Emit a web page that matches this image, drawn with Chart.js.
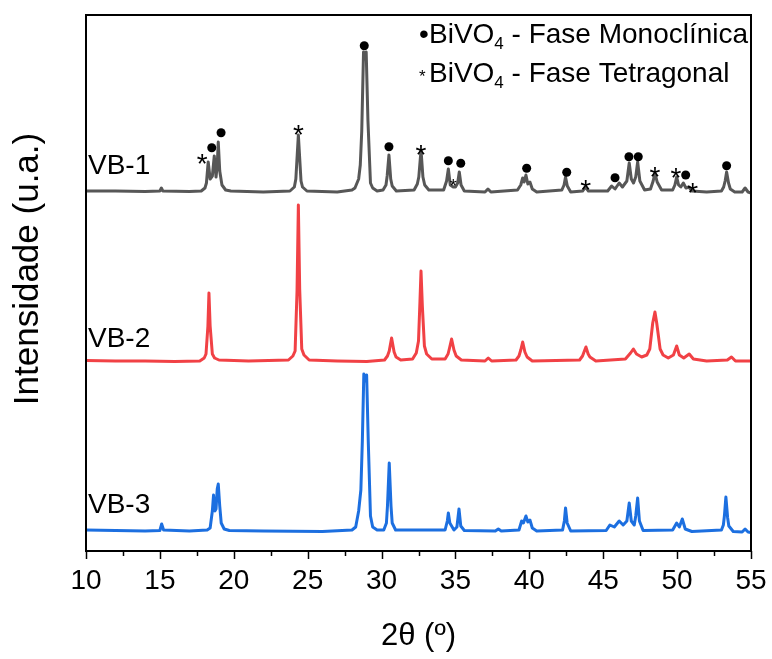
<!DOCTYPE html>
<html>
<head>
<meta charset="utf-8">
<script src="https://cdn.jsdelivr.net/npm/chart.js@4.4.0/dist/chart.umd.min.js"></script>
<style>
  html, body { margin: 0; padding: 0; background: #fff; }
  #wrap { width: 772px; height: 659px; }
</style>
</head>
<body>
<div id="wrap"><canvas id="xrdChart" width="772" height="659"></canvas></div>
<script>
// 2theta / intensity (arbitrary units, patterns already stacked)
const vb1 = [[10,360],[12,360],[14,359.5],[15.0,360],[15.1,363],[15.2,360],[17,359.5],[17.8,360],[18.05,363],[18.15,368],[18.27,389],[18.4,372],[18.55,375],[18.68,395],[18.8,374],[18.88,386],[18.95,409],[19.05,380],[19.2,366],[19.45,361],[19.8,360],[22,359],[23.8,360],[24.1,364],[24.2,372],[24.37,416],[24.55,370],[24.65,364],[24.95,360],[27,359],[28.0,361],[28.2,363],[28.45,372],[28.56,386],[28.66,420],[28.78,499],[28.88,492],[28.96,499],[29.08,430],[29.25,368],[29.4,363],[29.7,360],[30.1,361],[30.3,366],[30.38,375],[30.5,396],[30.62,372],[30.72,365],[31.0,360],[32.2,361],[32.42,367],[32.52,374],[32.67,401],[32.8,374],[32.92,366],[33.2,361],[34.2,361],[34.4,370],[34.52,382],[34.65,366],[34.85,364],[35.0,364],[35.15,368],[35.26,379],[35.38,366],[35.6,360],[37.0,359],[37.2,362],[37.4,359],[39.2,361],[39.42,366],[39.55,373],[39.65,369],[39.77,376],[39.9,367],[40.04,369],[40.2,362],[40.5,359],[42.2,361],[42.35,366],[42.45,374],[42.57,365],[42.8,359],[43.6,360],[43.8,364],[44.0,360],[45.3,360],[45.57,365],[45.8,362],[46.08,368],[46.3,364],[46.6,370],[46.76,388],[46.9,372],[47.05,368],[47.2,374],[47.33,389],[47.48,370],[47.8,361],[48.2,362],[48.38,370],[48.5,378],[48.65,369],[48.95,361],[49.7,361],[49.85,366],[49.97,374],[50.1,366],[50.25,364],[50.42,368],[50.6,363],[50.8,364],[51.0,360],[52.0,359],[53.0,360],[53.15,364],[53.25,370],[53.35,379],[53.48,368],[53.6,362],[53.9,359],[54.4,359],[54.6,363],[54.8,359],[55,358]];
const vb2 = [[10,190.5],[12,190],[14,190],[16,189.5],[17.7,190],[18.0,193],[18.12,197],[18.25,225],[18.32,258],[18.4,225],[18.55,197],[18.7,193],[19.0,191],[21,190],[23.7,191],[24.0,195],[24.15,200],[24.28,260],[24.37,346],[24.46,262],[24.6,202],[24.75,196],[25.1,191],[27,190],[29,189.5],[30.2,191],[30.4,195],[30.52,200],[30.68,213],[30.85,199],[30.98,194],[31.3,191],[32.1,192],[32.35,198],[32.5,210],[32.6,250],[32.67,280],[32.76,245],[32.9,205],[33.05,197],[33.4,192],[34.3,192],[34.5,197],[34.6,203],[34.74,212],[34.9,201],[35.05,195],[35.4,191],[37.0,190],[37.22,193],[37.45,190],[39.1,191],[39.3,195],[39.42,201],[39.55,209],[39.7,199],[39.85,194],[40.2,190],[43.4,191],[43.6,195],[43.7,199],[43.83,204],[43.98,197],[44.1,194],[44.5,190],[46.5,192],[46.85,198],[47.04,202],[47.25,197],[47.6,194],[47.95,196],[48.15,202],[48.35,228],[48.5,239],[48.62,228],[48.85,202],[49.05,196],[49.4,193],[49.75,196],[49.97,205],[50.15,196],[50.45,193],[50.82,197],[51.1,192],[52,190],[53.4,191],[53.68,194],[53.95,190],[55,190]];
const vb3 = [[10,21],[12,20.5],[14,20],[15.0,20.5],[15.12,27],[15.25,21],[17,20],[18.2,21],[18.4,23],[18.55,40],[18.63,56],[18.72,40],[18.8,42],[18.88,62],[18.95,67],[19.05,45],[19.15,28],[19.35,22],[19.7,20.5],[22,20],[26,19.5],[28.0,21],[28.25,24],[28.45,40],[28.6,61],[28.7,110],[28.8,177],[28.9,170],[28.99,176],[29.1,110],[29.25,35],[29.4,24],[29.7,21],[30.15,21],[30.33,28],[30.4,45],[30.52,88],[30.64,45],[30.72,28],[30.95,21],[34.3,21],[34.45,30],[34.52,38],[34.62,28],[34.9,21],[35.1,24],[35.24,42],[35.36,25],[35.6,20.5],[37.7,20],[37.9,22],[38.1,20],[39.3,21],[39.48,30],[39.6,28],[39.77,35],[39.9,29],[40.04,31],[40.2,23],[40.5,20],[42.25,21],[42.37,30],[42.45,43],[42.56,28],[42.8,20],[45.2,20.5],[45.45,26],[45.75,24],[46.08,30],[46.35,26],[46.6,30],[46.76,48],[46.9,30],[47.1,26],[47.2,35],[47.33,53],[47.45,30],[47.7,20.5],[49.7,21],[49.97,28],[50.15,24],[50.35,32],[50.55,22],[51,19.5],[53.0,21],[53.13,26],[53.2,35],[53.3,54],[53.42,33],[53.5,25],[53.8,19.5],[54.4,19],[54.6,22],[54.8,19],[55,18.5]];
const seriesNames = ['VB-1', 'VB-2', 'VB-3'];
const seriesColors = ['#575757', '#f14145', '#1c6fe0'];

// phase markers above VB-1 peaks
const monoclinicMarks = [[18.51,403.3],[19.14,418.3],[28.83,505.3],[30.50,404.3],[34.52,390.3],[35.36,387.7],[39.82,382.7],[42.53,378.7],[45.80,373.3],[46.74,394.3],[47.37,394.3],[50.58,376],[53.35,385.3]];
const tetragonalMarks = [[17.87,393.7],[24.37,422.7],[32.67,402.7],[43.81,367.7],[48.50,381],[49.92,380],[51.05,365.3]];
const tetragonalSmall = [[34.85,368.7]];

const FONT = '"Liberation Sans", Arial, sans-serif';
const toPoints = arr => arr.map(p => ({ x: p[0], y: p[1] }));

const decor = {
    id: 'decor',
    afterDraw(chart) {
        const { ctx, chartArea: a, scales: { x, y } } = chart;
        ctx.save();

        // frame
        ctx.strokeStyle = '#000';
        ctx.lineWidth = 2;
        ctx.strokeRect(a.left, a.top, a.right - a.left, a.bottom - a.top);

        // major / minor ticks, outward
        ctx.lineWidth = 1.5;
        for (let v = 10; v <= 55; v += 2.5) {
            const px = Math.round(x.getPixelForValue(v)) + 0.5;
            const len = (v % 5 === 0) ? 8 : 5;
            ctx.beginPath();
            ctx.moveTo(px, a.bottom);
            ctx.lineTo(px, a.bottom + len);
            ctx.stroke();
        }

        // markers
        ctx.fillStyle = '#000';
        monoclinicMarks.forEach(m => {
            ctx.beginPath();
            ctx.arc(x.getPixelForValue(m[0]), y.getPixelForValue(m[1]), 4.5, 0, Math.PI * 2);
            ctx.fill();
        });
        ctx.textAlign = 'center';
        ctx.textBaseline = 'alphabetic';
        ctx.font = '28px ' + FONT;
        tetragonalMarks.forEach(m => {
            ctx.fillText('*', x.getPixelForValue(m[0]), y.getPixelForValue(m[1]) + 16);
        });
        ctx.font = '18px ' + FONT;
        tetragonalSmall.forEach(m => {
            ctx.fillText('*', x.getPixelForValue(m[0]), y.getPixelForValue(m[1]) + 10);
        });

        // series labels
        ctx.textAlign = 'left';
        ctx.font = '28px ' + FONT;
        const labelBase = [174, 347, 513];
        seriesNames.forEach((n, i) => ctx.fillText(n, a.left + 2, labelBase[i]));

        // legend
        const legendLine = (sym, symFont, symY, baseY, rest) => {
            ctx.font = symFont;
            ctx.fillText(sym, 419, symY);
            let cx = 429;
            ctx.font = '28px ' + FONT;
            ctx.fillText('BiVO', cx, baseY);
            cx += ctx.measureText('BiVO').width;
            ctx.font = '17px ' + FONT;
            ctx.fillText('4', cx, baseY + 6);
            cx += ctx.measureText('4').width;
            ctx.font = '28px ' + FONT;
            ctx.fillText(rest, cx, baseY);
        };
        legendLine('\u2022', '28px ' + FONT, 43, 43, ' - Fase Monocl\u00ednica');
        legendLine('*', '17px ' + FONT, 82, 82, ' - Fase Tetragonal');

        // y title
        ctx.translate(28, 269);
        ctx.rotate(-Math.PI / 2);
        ctx.textAlign = 'center';
        ctx.textBaseline = 'middle';
        ctx.font = '35px ' + FONT;
        ctx.fillText('Intensidade (u.a.)', 0, 0);

        ctx.restore();
    }
};

new Chart(document.getElementById('xrdChart').getContext('2d'), {
    type: 'scatter',
    data: {
        datasets: [vb1, vb2, vb3].map((d, i) => ({
            label: seriesNames[i],
            data: toPoints(d),
            showLine: true,
            borderColor: seriesColors[i],
            borderWidth: 3,
            borderJoinStyle: 'round',
            pointRadius: 0,
            tension: 0
        }))
    },
    options: {
        responsive: false,
        animation: false,
        devicePixelRatio: 1,
        layout: { padding: { left: 86, top: 15, right: 21, bottom: 0 } },
        plugins: { legend: { display: false }, tooltip: { enabled: false } },
        scales: {
            x: {
                type: 'linear',
                min: 10,
                max: 55,
                afterFit: s => { s.height = 108; s.paddingLeft = 0; s.paddingRight = 0; },
                grid: { display: false, drawTicks: false },
                border: { display: false },
                ticks: { stepSize: 5, padding: 13, color: '#000', font: { size: 28, family: FONT } },
                title: { display: true, text: '2\u03b8 (\u00ba)', color: '#000', font: { size: 31, family: FONT }, padding: { top: 0, bottom: 4 } }
            },
            y: {
                display: false,
                min: 0,
                max: 536
            }
        }
    },
    plugins: [decor]
});
</script>
</body>
</html>
